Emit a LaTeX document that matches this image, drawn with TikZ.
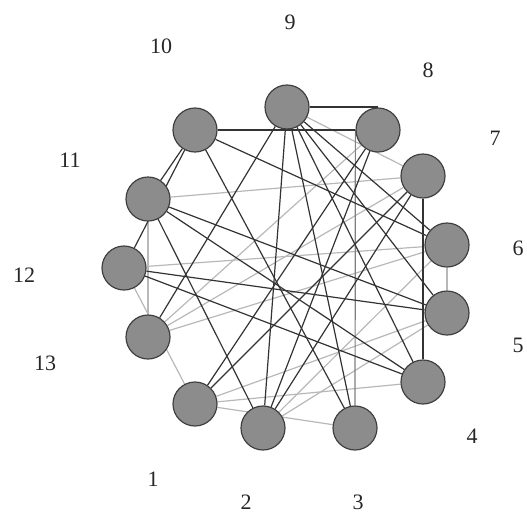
\documentclass[tikz,border=0pt]{standalone}
\usepackage{fontspec}
\setmainfont{Liberation Serif}
\usetikzlibrary{backgrounds}

\begin{document}
\begin{tikzpicture}[
    x=1pt, y=-1pt,
    vertex/.style={circle, draw=black!75, fill=black!45, line width=1.2pt, minimum size=44pt, inner sep=0pt},
    tag/.style={font=\fontsize{22}{26}\selectfont, text=black!85},
    strong/.style={draw, black!80, line width=1.2pt},
    weak/.style={draw, black!28, line width=1.2pt}
]
\useasboundingbox (0,0) rectangle (527,520);

% the thirteen vertices
\node [vertex] (n9) at (287,107) {};
\node [vertex] (n8) at (378,130) {};
\node [vertex] (n10) at (195,130) {};
\node [vertex] (n7) at (423,176) {};
\node [vertex] (n11) at (148,199) {};
\node [vertex] (n6) at (447,245) {};
\node [vertex] (n12) at (124,268) {};
\node [vertex] (n5) at (447,313) {};
\node [vertex] (n13) at (148,337) {};
\node [vertex] (n4) at (423,382) {};
\node [vertex] (n1) at (195,404) {};
\node [vertex] (n2) at (263,428) {};
\node [vertex] (n3) at (355,428) {};

% numbers round the ring
\node [tag] (t9) at (290,22) {9};
\node [tag] (t10) at (161,46) {10};
\node [tag] (t8) at (428,70) {8};
\node [tag] (t7) at (495,138) {7};
\node [tag] (t11) at (70,160) {11};
\node [tag] (t6) at (518,248) {6};
\node [tag] (t12) at (24,275) {12};
\node [tag] (t5) at (518,345) {5};
\node [tag] (t13) at (45,363) {13};
\node [tag] (t4) at (472,436) {4};
\node [tag] (t1) at (153,479) {1};
\node [tag] (t2) at (246,502) {2};
\node [tag] (t3) at (358,502) {3};

\begin{scope}[on background layer]
% light links
\path [weak] (n6) -- (n5);
\path [weak] (n11) -- (n13);
\path [weak] (n12) -- (n1);
\path [weak] (n1) -- (n4);
\path [weak] (n1) -- (n3);
\path [weak] (n13) -- (n7);
\path [weak] (n13) -- (n6);
\path [weak] (n13) -- (n8);
\path [weak] (n2) -- (n5);
\path [weak] (n9) -- (n7);
\path [weak] (n11) -- (n7);
\path [weak] (n2) -- (n6);
\path [weak] (n12) -- (n6);
\path [weak] (n1) -- (n5);
\path [weak, black!50] (n8.west) -- (n3);

% dark links
\path [strong] (n9) -- (n9 -| n8);
\path [strong] (n10) -- (n8);
\path [strong] (n10) -- (n11);
\path [strong] (n10) -- (n12);
\path [strong] (n10) -- (n3);
\path [strong] (n10) -- (n6);
\path [strong] (n9) -- (n13);
\path [strong] (n9) -- (n2);
\path [strong] (n9) -- (n3);
\path [strong] (n9) -- (n4);
\path [strong] (n9) -- (n5);
\path [strong] (n9) -- (n6);
\path [strong] (n8) -- (n1);
\path [strong] (n8) -- (n2);
\path [strong] (n7) -- (n4);
\path [strong] (n7) -- (n1);
\path [strong] (n7) -- (n2);
\path [strong] (n12) -- (n5);
\path [strong] (n12) -- (n4);
\path [strong] (n11) -- (n2);
\path [strong] (n11) -- (n4);
\path [strong] (n11) -- (n5);
\end{scope}

\end{tikzpicture}
\end{document}
